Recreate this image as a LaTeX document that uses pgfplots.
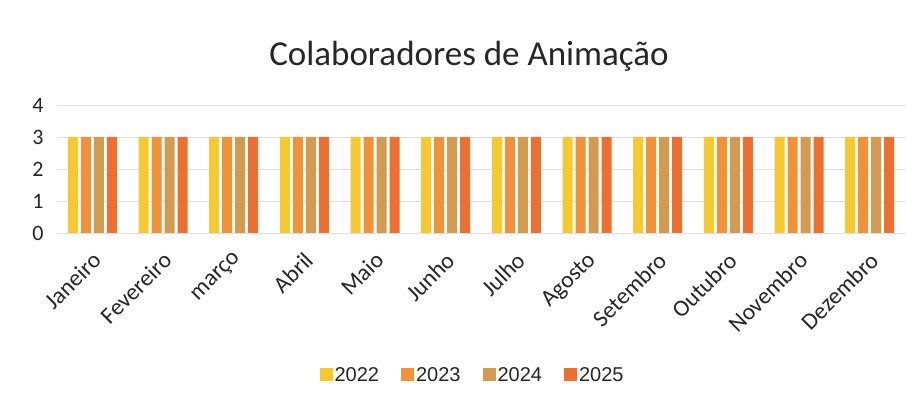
\documentclass[border=0pt]{standalone}
\usepackage{pgfplots}
\pgfplotsset{compat=1.18}
\usepackage{fontspec}
\setmainfont{Carlito}
\newfontfamily\legfont{Liberation Sans}
\definecolor{c22}{HTML}{F7C930}
\definecolor{c23}{HTML}{F0923A}
\definecolor{c24}{HTML}{D39A52}
\definecolor{c25}{HTML}{EB7032}
\definecolor{gridc}{HTML}{E0E0E0}
\begin{document}
\begin{tikzpicture}[x=1pt,y=1pt]
\path[use as bounding box,fill=white] (0,0) rectangle (919,403);
\node[font=\fontsize{35}{38}\selectfont, text=black!85] at (469,347) {Colaboradores de Animação};
\begin{axis}[
  at={(57pt,170pt)}, anchor=south west,
  scale only axis, width=848pt, height=128pt,
  ybar=3pt, bar width=10pt,
  xmin=-0.5, xmax=11.5, ymin=0, ymax=4,
  ytick={0,1,2,3,4},
  xtick={0,...,11},
  xticklabels={Janeiro,Fevereiro,março,Abril,Maio,Junho,Julho,Agosto,Setembro,Outubro,Novembro,Dezembro},
  x tick label style={rotate=45, anchor=north east, font=\fontsize{23.5}{25}\selectfont, text=black!85, xshift=-10pt, yshift=-8pt},
  y tick label style={font=\fontsize{22}{24}\selectfont, text=black!85, xshift=-10pt},
  /pgf/number format/assume math mode=true,
  ymajorgrids, grid style={gridc, line width=0.8pt},
  axis line style={draw=none},
  major tick length=0pt,
  legend style={at={(0.49,-1.11)}, anchor=center, draw=none, fill=none,
    legend columns=4, font=\legfont\fontsize{20}{22}\selectfont, text=black!85,
    /tikz/every even column/.append style={column sep=20pt}},
  legend image code/.code={\fill[#1] (0pt,-6pt) rectangle (13pt,7pt);},
]
\addplot[fill=c22, draw=none] coordinates {(0,3)(1,3)(2,3)(3,3)(4,3)(5,3)(6,3)(7,3)(8,3)(9,3)(10,3)(11,3)};
\addplot[fill=c23, draw=none] coordinates {(0,3)(1,3)(2,3)(3,3)(4,3)(5,3)(6,3)(7,3)(8,3)(9,3)(10,3)(11,3)};
\addplot[fill=c24, draw=none] coordinates {(0,3)(1,3)(2,3)(3,3)(4,3)(5,3)(6,3)(7,3)(8,3)(9,3)(10,3)(11,3)};
\addplot[fill=c25, draw=none] coordinates {(0,3)(1,3)(2,3)(3,3)(4,3)(5,3)(6,3)(7,3)(8,3)(9,3)(10,3)(11,3)};
\legend{2022,2023,2024,2025}
\end{axis}
\end{tikzpicture}
\end{document}
